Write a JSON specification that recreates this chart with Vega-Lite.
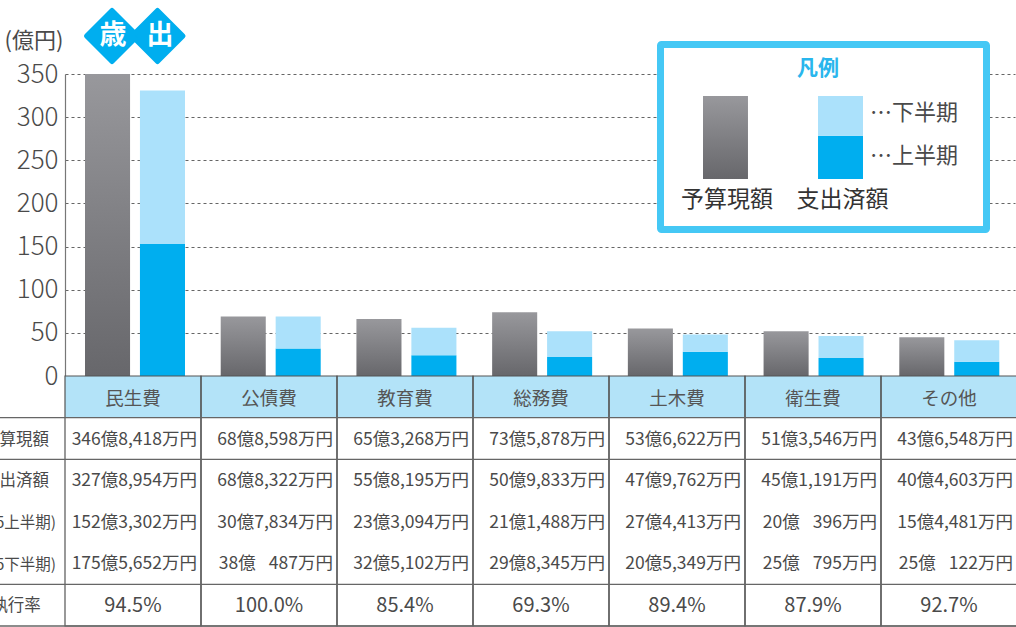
{
"$schema":"https://vega.github.io/schema/vega-lite/v6.json",
"width":951,"height":627,"autosize":"none","padding":{"left":65,"top":0,"right":0,"bottom":0},"background":"white",
"config":{"font":"Noto Sans CJK JP","view":{"stroke":null}},
"datasets":{
"bars":[
{"cat":"民生費","group":"予算現額","period":"総額","value":350},
{"cat":"公債費","group":"予算現額","period":"総額","value":69},
{"cat":"教育費","group":"予算現額","period":"総額","value":66},
{"cat":"総務費","group":"予算現額","period":"総額","value":74},
{"cat":"土木費","group":"予算現額","period":"総額","value":55},
{"cat":"衛生費","group":"予算現額","period":"総額","value":52},
{"cat":"その他","group":"予算現額","period":"総額","value":45},
{"cat":"民生費","group":"支出済額","period":"上半期","value":153},
{"cat":"公債費","group":"支出済額","period":"上半期","value":32},
{"cat":"教育費","group":"支出済額","period":"上半期","value":24},
{"cat":"総務費","group":"支出済額","period":"上半期","value":22},
{"cat":"土木費","group":"支出済額","period":"上半期","value":28},
{"cat":"衛生費","group":"支出済額","period":"上半期","value":21},
{"cat":"その他","group":"支出済額","period":"上半期","value":16.5},
{"cat":"民生費","group":"支出済額","period":"下半期","value":178},
{"cat":"公債費","group":"支出済額","period":"下半期","value":37},
{"cat":"教育費","group":"支出済額","period":"下半期","value":32},
{"cat":"総務費","group":"支出済額","period":"下半期","value":30},
{"cat":"土木費","group":"支出済額","period":"下半期","value":20},
{"cat":"衛生費","group":"支出済額","period":"下半期","value":25.5},
{"cat":"その他","group":"支出済額","period":"下半期","value":25}
],
"cats":[{"cat":"民生費"},{"cat":"公債費"},{"cat":"教育費"},{"cat":"総務費"},{"cat":"土木費"},{"cat":"衛生費"},{"cat":"その他"}],
"amounts":[
{"cat":"民生費","row":"予算現額","text":"346億8,418万円"},{"cat":"公債費","row":"予算現額","text":"68億8,598万円"},{"cat":"教育費","row":"予算現額","text":"65億3,268万円"},{"cat":"総務費","row":"予算現額","text":"73億5,878万円"},{"cat":"土木費","row":"予算現額","text":"53億6,622万円"},{"cat":"衛生費","row":"予算現額","text":"51億3,546万円"},{"cat":"その他","row":"予算現額","text":"43億6,548万円"},
{"cat":"民生費","row":"支出済額","text":"327億8,954万円"},{"cat":"公債費","row":"支出済額","text":"68億8,322万円"},{"cat":"教育費","row":"支出済額","text":"55億8,195万円"},{"cat":"総務費","row":"支出済額","text":"50億9,833万円"},{"cat":"土木費","row":"支出済額","text":"47億9,762万円"},{"cat":"衛生費","row":"支出済額","text":"45億1,191万円"},{"cat":"その他","row":"支出済額","text":"40億4,603万円"},
{"cat":"民生費","row":"(令和5上半期)","text":"152億3,302万円"},{"cat":"公債費","row":"(令和5上半期)","text":"30億7,834万円"},{"cat":"教育費","row":"(令和5上半期)","text":"23億3,094万円"},{"cat":"総務費","row":"(令和5上半期)","text":"21億1,488万円"},{"cat":"土木費","row":"(令和5上半期)","text":"27億4,413万円"},{"cat":"衛生費","row":"(令和5上半期)","text":"20億\u2002\u2005396万円"},{"cat":"その他","row":"(令和5上半期)","text":"15億4,481万円"},
{"cat":"民生費","row":"(令和5下半期)","text":"175億5,652万円"},{"cat":"公債費","row":"(令和5下半期)","text":"38億\u2002\u2005487万円"},{"cat":"教育費","row":"(令和5下半期)","text":"32億5,102万円"},{"cat":"総務費","row":"(令和5下半期)","text":"29億8,345万円"},{"cat":"土木費","row":"(令和5下半期)","text":"20億5,349万円"},{"cat":"衛生費","row":"(令和5下半期)","text":"25億\u2002\u2005795万円"},{"cat":"その他","row":"(令和5下半期)","text":"25億\u2002\u2005122万円"}
],
"rates":[{"cat":"民生費","text":"94.5%"},{"cat":"公債費","text":"100.0%"},{"cat":"教育費","text":"85.4%"},{"cat":"総務費","text":"69.3%"},{"cat":"土木費","text":"89.4%"},{"cat":"衛生費","text":"87.9%"},{"cat":"その他","text":"92.7%"}],
"rowLabels":[{"row":"予算現額"},{"row":"支出済額"},{"row":"執行率"}],
"periodLabels":[{"row":"(令和5上半期)"},{"row":"(令和5下半期)"}],
"edges":[{"edge":"見出し下"},{"edge":"予算現額下"},{"edge":"執行率上"},{"edge":"表下"}]
},
"resolve":{"scale":{"x":"independent","y":"independent","color":"independent","xOffset":"independent"},"axis":{"x":"independent","y":"independent"}},
"layer":[
{"data":{"name":"bars"},"transform":[{"filter":"datum.group==='予算現額'"}],
 "mark":{"type":"bar","color":{"gradient":"linear","x1":0,"y1":0,"x2":0,"y2":1,"stops":[{"offset":0,"color":"#98989c"},{"offset":1,"color":"#67676b"}]}},
 "encoding":{
  "x":{"field":"cat","type":"nominal","sort":null,"axis":null,"scale":{"type":"band","domain":["民生費","公債費","教育費","総務費","土木費","衛生費","その他"],"range":[0,950],"paddingInner":0,"paddingOuter":0}},
  "xOffset":{"datum":"予算現額","scale":{"type":"band","domain":["予算現額","支出済額"],"range":[20,120],"paddingInner":0.18,"paddingOuter":0}},
  "y":{"field":"value","type":"quantitative","scale":{"domain":[0,350],"range":[376,74],"nice":false},
   "axis":{"title":null,"values":[0,50,100,150,200,250,300,350],"tickSize":0,"labelPadding":7,"labelFontSize":26,"labelColor":"#4a4a4a","labelFont":"Noto Sans CJK JP","labelFontWeight":300,"domain":true,"domainColor":"#777","domainWidth":1.2,"grid":true,"gridColor":"#555","gridDash":[3,3],"gridWidth":1,"gridOpacity":0.9,"labelBound":false,"labelOverlap":false}}
 }},
{"data":{"name":"bars"},"transform":[{"filter":"datum.group==='支出済額'"}],
 "mark":{"type":"bar"},
 "encoding":{
  "x":{"field":"cat","type":"nominal","sort":null,"axis":null,"scale":{"type":"band","domain":["民生費","公債費","教育費","総務費","土木費","衛生費","その他"],"range":[0,950],"paddingInner":0,"paddingOuter":0}},
  "xOffset":{"datum":"支出済額","scale":{"type":"band","domain":["予算現額","支出済額"],"range":[20,120],"paddingInner":0.18,"paddingOuter":0}},
  "y":{"field":"value","type":"quantitative","stack":"zero","axis":null,"scale":{"domain":[0,350],"range":[376,74],"nice":false}},
  "color":{"field":"period","type":"nominal","legend":null,"scale":{"domain":["上半期","下半期"],"range":["#00aeef","#abe1fb"]}},
  "order":{"field":"period","sort":"ascending"}
 }},
{"data":{"name":"cats"},"mark":{"type":"rect","fill":"#b3e3f8"},
 "encoding":{
  "x":{"field":"cat","type":"nominal","axis":null,"scale":{"type":"band","domain":["民生費","公債費","教育費","総務費","土木費","衛生費","その他"],"range":[0,952],"paddingInner":0,"paddingOuter":0}},
  "y":{"datum":"見出し","axis":null,"scale":{"type":"band","domain":["見出し"],"range":[376,418],"paddingInner":0,"paddingOuter":0}}
 }},
{"data":{"name":"cats"},"mark":{"type":"rect","fill":null,"stroke":"#555","strokeWidth":1.2},
 "encoding":{
  "x":{"field":"cat","type":"nominal","axis":null,"scale":{"type":"band","domain":["民生費","公債費","教育費","総務費","土木費","衛生費","その他"],"range":[0,952],"paddingInner":0,"paddingOuter":0}},
  "y":{"datum":"表","axis":null,"scale":{"type":"band","domain":["表"],"range":[376,626],"paddingInner":0,"paddingOuter":0}}
 }},
{"data":{"name":"edges"},"mark":{"type":"rule","stroke":"#666","strokeWidth":1.3},
 "encoding":{
  "y":{"field":"edge","type":"nominal","axis":null,"scale":{"type":"point","domain":["見出し上","見出し下","予算現額下","支出済額下","上半期下","執行率上","表下"],"range":[376,626],"padding":0}},
  "x":{"datum":0,"axis":null,"scale":{"domain":[0,1],"range":[-65,952]}},
  "x2":{"datum":1}
 }},
{"data":{"name":"cats"},"mark":{"type":"text","fontSize":18.5,"color":"#555","dy":2},
 "encoding":{
  "x":{"field":"cat","type":"nominal","axis":null,"scale":{"type":"band","domain":["民生費","公債費","教育費","総務費","土木費","衛生費","その他"],"range":[0,952],"paddingInner":0,"paddingOuter":0}},
  "y":{"datum":"費目","axis":null,"scale":{"type":"band","domain":["費目"],"range":[376,418],"paddingInner":0,"paddingOuter":0}},
  "text":{"field":"cat"}
 }},
{"data":{"name":"amounts"},"mark":{"type":"text","fontSize":17.5,"color":"#4a4a4a","align":"right","dx":-4,"dy":1},
 "encoding":{
  "x":{"field":"cat","type":"nominal","bandPosition":1,"axis":null,"scale":{"type":"band","domain":["民生費","公債費","教育費","総務費","土木費","衛生費","その他"],"range":[0,952],"paddingInner":0,"paddingOuter":0}},
  "y":{"field":"row","type":"nominal","axis":null,"scale":{"type":"band","domain":["予算現額","支出済額","(令和5上半期)","(令和5下半期)"],"range":[418,584],"paddingInner":0,"paddingOuter":0}},
  "text":{"field":"text"}
 }},
{"data":{"name":"rates"},"mark":{"type":"text","fontSize":20,"color":"#4a4a4a","dy":1},
 "encoding":{
  "x":{"field":"cat","type":"nominal","axis":null,"scale":{"type":"band","domain":["民生費","公債費","教育費","総務費","土木費","衛生費","その他"],"range":[0,952],"paddingInner":0,"paddingOuter":0}},
  "y":{"datum":"執行率","axis":null,"scale":{"type":"band","domain":["執行率"],"range":[584,626],"paddingInner":0,"paddingOuter":0}},
  "text":{"field":"text"}
 }},
{"data":{"name":"rowLabels"},"mark":{"type":"text","fontSize":16.5,"color":"#4a4a4a","dy":1},
 "encoding":{
  "x":{"datum":"行見出し","axis":null,"scale":{"type":"point","domain":["行見出し"],"range":[-49,-49]}},
  "y":{"field":"row","type":"nominal","axis":null,"scale":{"type":"band","domain":["予算現額","支出済額","(令和5上半期)","(令和5下半期)","執行率"],"range":[418,626],"paddingInner":0,"paddingOuter":0}},
  "text":{"field":"row"}
 }},
{"data":{"name":"periodLabels"},"mark":{"type":"text","fontSize":15.5,"color":"#4a4a4a","align":"right","dy":1},
 "encoding":{
  "x":{"datum":"行見出し","axis":null,"scale":{"type":"point","domain":["行見出し"],"range":[-9,-9]}},
  "y":{"field":"row","type":"nominal","axis":null,"scale":{"type":"band","domain":["予算現額","支出済額","(令和5上半期)","(令和5下半期)","執行率"],"range":[418,626],"paddingInner":0,"paddingOuter":0}},
  "text":{"field":"row"}
 }},
{"data":{"values":[{"unit":"(億円)"}]},"mark":{"type":"text","fontSize":22,"color":"#4a4a4a"},
 "encoding":{
  "x":{"field":"unit","type":"nominal","axis":null,"scale":{"type":"point","domain":["(億円)"],"range":[-31,-31]}},
  "y":{"field":"unit","type":"nominal","axis":null,"scale":{"type":"point","domain":["(億円)"],"range":[41,41]}},
  "text":{"field":"unit"}
 }},
{"data":{"values":[{"c":"歳"},{"c":"出"}]},"mark":{"type":"point","shape":"diamond","filled":true,"size":2600,"color":"#00aeef","stroke":"#00aeef","strokeWidth":5,"strokeJoin":"round","opacity":1},
 "encoding":{
  "x":{"field":"c","type":"nominal","sort":null,"axis":null,"scale":{"type":"point","domain":["歳","出"],"range":[47,92.5],"padding":0}},
  "y":{"datum":"見出し","axis":null,"scale":{"type":"point","domain":["見出し"],"range":[36,36]}}
 }},
{"data":{"values":[{"c":"歳"},{"c":"出"}]},"mark":{"type":"text","fontSize":27,"fontWeight":"bold","color":"white"},
 "encoding":{
  "x":{"field":"c","type":"nominal","sort":null,"axis":null,"scale":{"type":"point","domain":["歳","出"],"range":[48,95],"padding":0}},
  "y":{"datum":"見出し","axis":null,"scale":{"type":"point","domain":["見出し"],"range":[36,36]}},
  "text":{"field":"c"}
 }},
{"data":{"values":[{"name":"凡例"}]},"mark":{"type":"rect","fill":"white","stroke":"#45c8f5","strokeWidth":7,"cornerRadius":1,"strokeJoin":"round"},
 "encoding":{
  "x":{"field":"name","type":"nominal","axis":null,"scale":{"type":"band","domain":["凡例"],"range":[595.5,921.5],"paddingInner":0,"paddingOuter":0}},
  "y":{"field":"name","type":"nominal","axis":null,"scale":{"type":"band","domain":["凡例"],"range":[44.5,229.5],"paddingInner":0,"paddingOuter":0}}
 }},
{"data":{"values":[{"name":"凡例"}]},"mark":{"type":"text","fontSize":21,"fontWeight":"bold","color":"#29b6ed","dy":1},
 "encoding":{
  "x":{"field":"name","type":"nominal","axis":null,"scale":{"type":"point","domain":["凡例"],"range":[753,753]}},
  "y":{"field":"name","type":"nominal","axis":null,"scale":{"type":"point","domain":["凡例"],"range":[68,68]}},
  "text":{"field":"name"}
 }},
{"data":{"values":[{"group":"予算現額","value":2}]},
 "mark":{"type":"bar","color":{"gradient":"linear","x1":0,"y1":0,"x2":0,"y2":1,"stops":[{"offset":0,"color":"#98989c"},{"offset":1,"color":"#67676b"}]}},
 "encoding":{
  "x":{"field":"group","type":"nominal","axis":null,"scale":{"type":"band","domain":["予算現額","支出済額"],"range":[638,798],"paddingInner":0.609,"paddingOuter":0}},
  "y":{"field":"value","type":"quantitative","axis":null,"scale":{"domain":[0,2],"range":[179,96],"nice":false}}
 }},
{"data":{"values":[{"group":"支出済額","period":"上半期","value":1.04},{"group":"支出済額","period":"下半期","value":0.96}]},
 "mark":{"type":"bar"},
 "encoding":{
  "x":{"field":"group","type":"nominal","axis":null,"scale":{"type":"band","domain":["予算現額","支出済額"],"range":[638,798],"paddingInner":0.609,"paddingOuter":0}},
  "y":{"field":"value","type":"quantitative","stack":"zero","axis":null,"scale":{"domain":[0,2],"range":[179,96],"nice":false}},
  "color":{"field":"period","type":"nominal","legend":null,"scale":{"domain":["上半期","下半期"],"range":["#00aeef","#abe1fb"]}},
  "order":{"field":"period","sort":"ascending"}
 }},
{"data":{"values":[{"group":"予算現額"},{"group":"支出済額"}]},"mark":{"type":"text","fontSize":23,"color":"#333"},
 "encoding":{
  "x":{"field":"group","type":"nominal","axis":null,"scale":{"type":"point","domain":["予算現額","支出済額"],"range":[662,777.5],"padding":0}},
  "y":{"datum":"項目","axis":null,"scale":{"type":"point","domain":["項目"],"range":[200,200]}},
  "text":{"field":"group"}
 }},
{"data":{"values":[{"period":"下半期","label":"…下半期"},{"period":"上半期","label":"…上半期"}]},"mark":{"type":"text","fontSize":22,"color":"#4a4a4a","align":"left"},
 "encoding":{
  "x":{"datum":"注記","axis":null,"scale":{"type":"point","domain":["注記"],"range":[805,805]}},
  "y":{"field":"period","type":"nominal","axis":null,"scale":{"type":"point","domain":["下半期","上半期"],"range":[113,156],"padding":0}},
  "text":{"field":"label"}
 }}
]
}
